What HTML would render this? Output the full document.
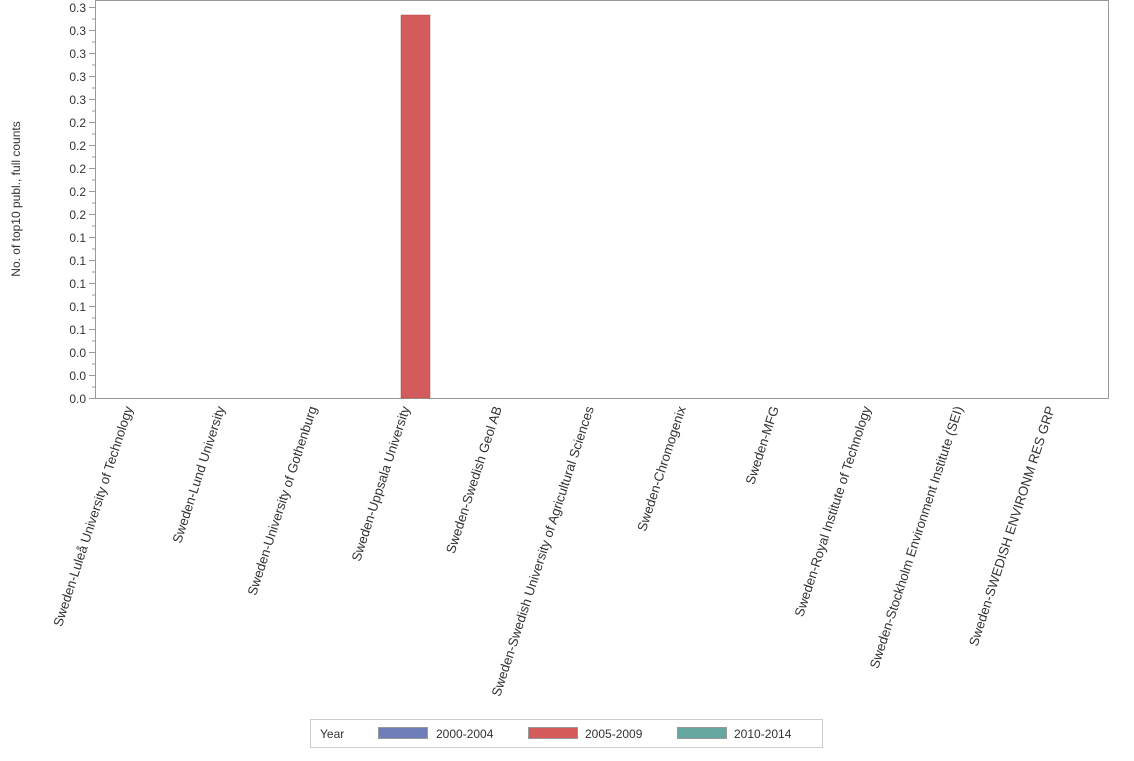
<!DOCTYPE html>
<html><head><meta charset="utf-8"><style>
body{margin:0;background:#fff;}
svg text{font-family:"Liberation Sans",Arial,sans-serif;fill:#333;}
</style></head><body>
<svg width="1134" height="756" xmlns="http://www.w3.org/2000/svg">
<rect x="95.5" y="0.5" width="1013" height="398" fill="#fff" stroke="#999"/>
<rect x="401" y="15" width="29" height="383" fill="#d35b5b" stroke="#b04a4a" stroke-width="0.5"/>
<g stroke="#999">
<line x1="89" y1="7.5" x2="95" y2="7.5"/><line x1="92" y1="19" x2="95" y2="19"/>
<line x1="89" y1="30.5" x2="95" y2="30.5"/><line x1="92" y1="42" x2="95" y2="42"/>
<line x1="89" y1="53.5" x2="95" y2="53.5"/><line x1="92" y1="65" x2="95" y2="65"/>
<line x1="89" y1="76.5" x2="95" y2="76.5"/><line x1="92" y1="88" x2="95" y2="88"/>
<line x1="89" y1="99.5" x2="95" y2="99.5"/><line x1="92" y1="111" x2="95" y2="111"/>
<line x1="89" y1="122.5" x2="95" y2="122.5"/><line x1="92" y1="134" x2="95" y2="134"/>
<line x1="89" y1="145.5" x2="95" y2="145.5"/><line x1="92" y1="157" x2="95" y2="157"/>
<line x1="89" y1="168.5" x2="95" y2="168.5"/><line x1="92" y1="180" x2="95" y2="180"/>
<line x1="89" y1="191.5" x2="95" y2="191.5"/><line x1="92" y1="203" x2="95" y2="203"/>
<line x1="89" y1="214.5" x2="95" y2="214.5"/><line x1="92" y1="226" x2="95" y2="226"/>
<line x1="89" y1="237.5" x2="95" y2="237.5"/><line x1="92" y1="249" x2="95" y2="249"/>
<line x1="89" y1="260.5" x2="95" y2="260.5"/><line x1="92" y1="272" x2="95" y2="272"/>
<line x1="89" y1="283.5" x2="95" y2="283.5"/><line x1="92" y1="295" x2="95" y2="295"/>
<line x1="89" y1="306.5" x2="95" y2="306.5"/><line x1="92" y1="318" x2="95" y2="318"/>
<line x1="89" y1="329.5" x2="95" y2="329.5"/><line x1="92" y1="341" x2="95" y2="341"/>
<line x1="89" y1="352.5" x2="95" y2="352.5"/><line x1="92" y1="364" x2="95" y2="364"/>
<line x1="89" y1="375.5" x2="95" y2="375.5"/><line x1="92" y1="387" x2="95" y2="387"/>
<line x1="89" y1="398.5" x2="95" y2="398.5"/>
</g>
<g font-size="12" text-anchor="end">
<text x="86" y="12">0.3</text><text x="86" y="35">0.3</text><text x="86" y="58">0.3</text>
<text x="86" y="81">0.3</text><text x="86" y="104">0.3</text><text x="86" y="127">0.2</text>
<text x="86" y="150">0.2</text><text x="86" y="173">0.2</text><text x="86" y="196">0.2</text>
<text x="86" y="219">0.2</text><text x="86" y="242">0.1</text><text x="86" y="265">0.1</text>
<text x="86" y="288">0.1</text><text x="86" y="311">0.1</text><text x="86" y="334">0.1</text>
<text x="86" y="357">0.0</text><text x="86" y="380">0.0</text><text x="86" y="403">0.0</text>
</g>
<text font-size="12" text-anchor="middle" transform="translate(20,199) rotate(-90)">No. of top10 publ., full counts</text>
<g font-size="13.2" text-anchor="end">
<text transform="translate(133,408) rotate(-72)">Sweden-Luleå University of Technology</text>
<text transform="translate(225,408) rotate(-72)">Sweden-Lund University</text>
<text transform="translate(317,408) rotate(-72)">Sweden-University of Gothenburg</text>
<text transform="translate(410,408) rotate(-72)">Sweden-Uppsala University</text>
<text transform="translate(502,408) rotate(-72)">Sweden-Swedish Geol AB</text>
<text transform="translate(594,408) rotate(-72)">Sweden-Swedish University of Agricultural Sciences</text>
<text transform="translate(686,408) rotate(-72)">Sweden-Chromogenix</text>
<text transform="translate(779,408) rotate(-72)">Sweden-MFG</text>
<text transform="translate(871,408) rotate(-72)">Sweden-Royal Institute of Technology</text>
<text transform="translate(963,408) rotate(-72)">Sweden-Stockholm Environment Institute (SEI)</text>
<text transform="translate(1055,408) rotate(-72)">Sweden-SWEDISH ENVIRONM RES GRP</text>
</g>
<rect x="310.5" y="719.5" width="512" height="28" fill="#fff" stroke="#ccc"/>
<g font-size="12">
<text x="320" y="738">Year</text>
<rect x="378.5" y="727.5" width="49" height="11" fill="#6f7eb6" stroke="#999"/>
<text x="436" y="738">2000-2004</text>
<rect x="528.5" y="727.5" width="49" height="11" fill="#d35b5b" stroke="#999"/>
<text x="585" y="738">2005-2009</text>
<rect x="677.5" y="727.5" width="49" height="11" fill="#66a8a0" stroke="#999"/>
<text x="734" y="738">2010-2014</text>
</g>
</svg>
</body></html>
